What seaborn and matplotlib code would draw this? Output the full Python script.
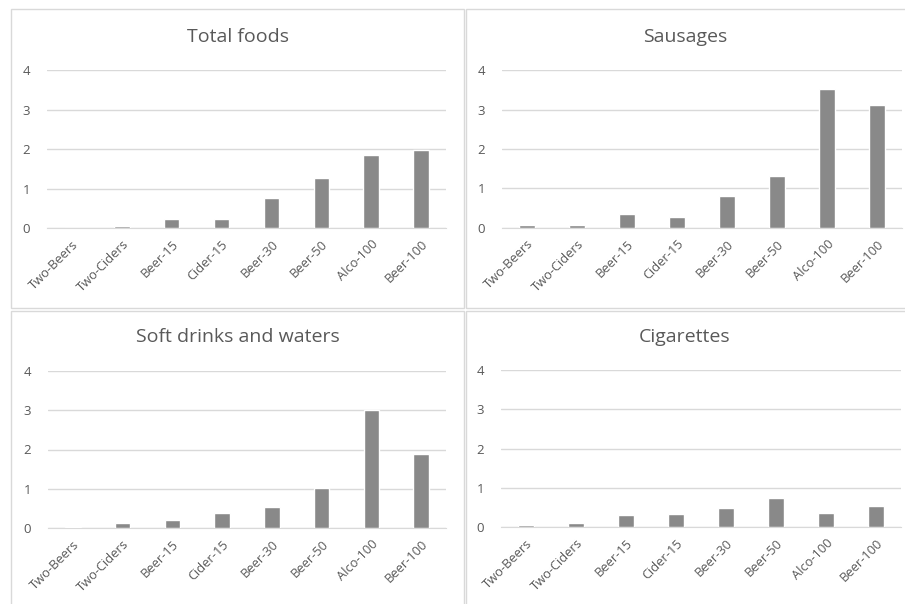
import pandas as pd
import numpy as np
import seaborn as sns
import matplotlib.pyplot as plt
from matplotlib.patches import Rectangle

categories = ["Two-Beers", "Two-Ciders", "Beer-15", "Cider-15",
              "Beer-30", "Beer-50", "Alco-100", "Beer-100"]
total_foods = [0.01, 0.04, 0.24, 0.22, 0.75, 1.28, 1.85, 1.97]
sausages = [0.08, 0.08, 0.36, 0.26, 0.80, 1.32, 3.52, 3.13]
soft_drinks = [0.03, 0.12, 0.20, 0.37, 0.54, 1.02, 3.00, 1.89]
cigarettes = [0.05, 0.09, 0.31, 0.32, 0.48, 0.75, 0.36, 0.53]
titles = ["Total foods", "Sausages", "Soft drinks and waters", "Cigarettes"]
y_ticks = [0, 1, 2, 3, 4]

sns.set_style("white")
plt.rcParams['font.family'] = ['Open Sans', 'DejaVu Sans']

W, H = 905, 604
fig = plt.figure(figsize=(W / 100, H / 100), dpi=100)

text_col = "#595959"
bar_col = "#898989"
grid_col = "#d9d9d9"

# panel frames (pixels: x0, y0, x1, y1), axes boxes and title centres
panels = [(11, 9, 464, 308), (466, 9, 910, 308),
          (11, 311, 464, 610), (466, 311, 910, 610)]
axes_px = [(47, 70.3, 446, 228), (502, 70.3, 902, 227.7),
           (48, 371, 446, 528), (501, 370.3, 901, 527)]
title_pos = [(237.5, 37), (685, 37), (237.5, 337), (685, 337)]

series = [total_foods, sausages, soft_drinks, cigarettes]

for i in range(4):
    x0, y0, x1, y1 = panels[i]
    fig.patches.append(Rectangle((x0 / W, 1 - y1 / H), (x1 - x0) / W, (y1 - y0) / H,
                                 transform=fig.transFigure, fill=False,
                                 edgecolor=grid_col, linewidth=1))
    ax0, ay0, ax1, ay1 = axes_px[i]
    ax = fig.add_axes([ax0 / W, 1 - ay1 / H, (ax1 - ax0) / W, (ay1 - ay0) / H])
    df = pd.DataFrame({"group": categories, "value": series[i]})
    sns.barplot(data=df, x="group", y="value", color=bar_col, width=0.31,
                saturation=1, ax=ax, zorder=3)
    ax.set_xlim(-0.5, 7.5)
    ax.set_ylim(0, 4)
    ax.set_yticks(y_ticks)
    ax.yaxis.grid(True, color=grid_col, linewidth=1, zorder=0)
    ax.set_axisbelow(True)
    for s in ["top", "right", "left"]:
        ax.spines[s].set_visible(False)
    ax.spines["bottom"].set_color(grid_col)
    ax.set_xlabel("")
    ax.set_ylabel("")
    ax.tick_params(axis="y", length=0, pad=12, labelsize=9.5, labelcolor=text_col)
    ax.tick_params(axis="x", length=0, pad=7, labelsize=9.3, labelcolor=text_col)
    for lab in ax.get_xticklabels():
        lab.set_rotation(45)
        lab.set_ha("right")
        lab.set_rotation_mode("anchor")
    tx, ty = title_pos[i]
    fig.text(tx / W, 1 - ty / H, titles[i], ha="center", va="center",
             fontsize=14, color=text_col)

fig.savefig("out.png", dpi=100)
